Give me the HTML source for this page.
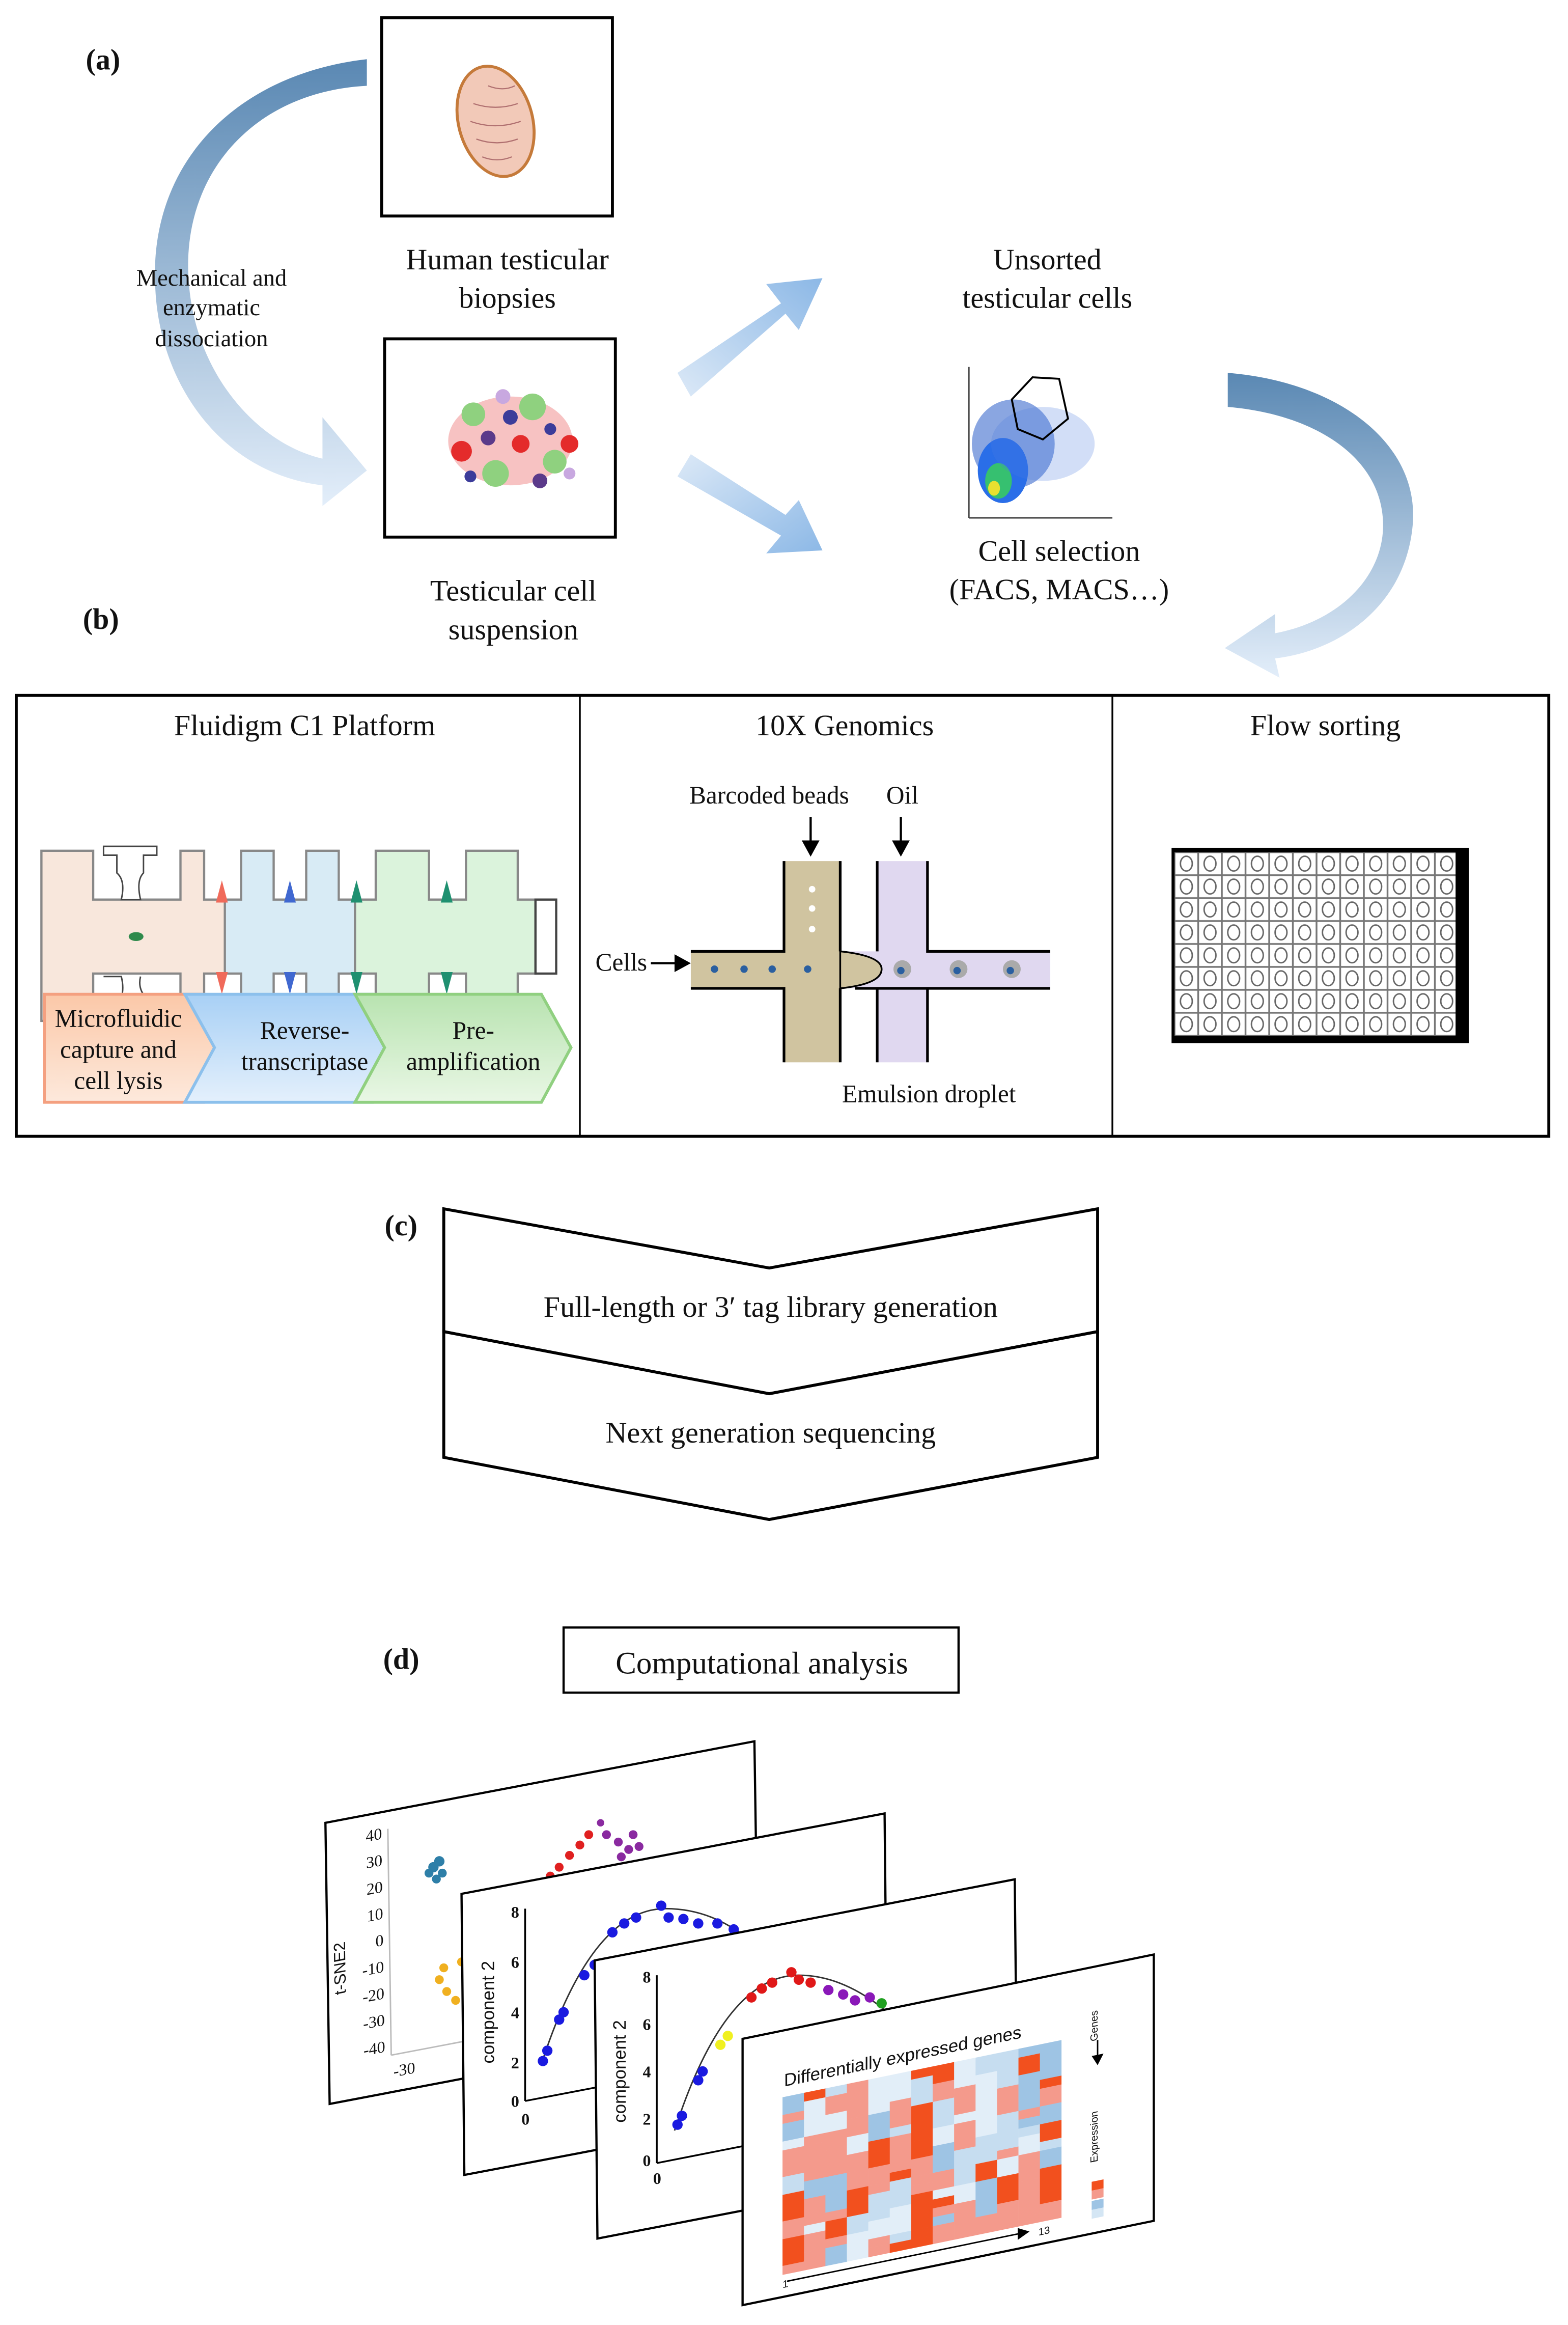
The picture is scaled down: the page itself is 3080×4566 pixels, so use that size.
<!DOCTYPE html>
<html><head><meta charset="utf-8"><style>
html,body{margin:0;padding:0;background:#fff}
svg{display:block}
text{font-family:"Liberation Serif",serif;fill:#111}
.s{font-family:"Liberation Sans",sans-serif}
</style></head><body>
<svg width="3080" height="4566" viewBox="0 0 1060 1571.4" xmlns="http://www.w3.org/2000/svg">
<defs>
<linearGradient id="ga" x1="0" y1="0" x2="0" y2="1"><stop offset="0" stop-color="#5a88b3"/><stop offset="1" stop-color="#e3eefa"/></linearGradient>
<linearGradient id="gb" x1="0" y1="1" x2="1" y2="0"><stop offset="0" stop-color="#dce9f7"/><stop offset="1" stop-color="#8cb8e6"/></linearGradient>
<linearGradient id="gc" x1="0" y1="0" x2="1" y2="1"><stop offset="0" stop-color="#dce9f7"/><stop offset="1" stop-color="#8cb8e6"/></linearGradient>
<linearGradient id="gd" x1="0" y1="0" x2="0" y2="1"><stop offset="0" stop-color="#5a88b3"/><stop offset="1" stop-color="#e3eefa"/></linearGradient>
<linearGradient id="pe" x1="0" y1="0" x2="0" y2="1"><stop offset="0" stop-color="#fbc8a8"/><stop offset="1" stop-color="#fde9dc"/></linearGradient>
<linearGradient id="bl" x1="0" y1="0" x2="0" y2="1"><stop offset="0" stop-color="#a8d0f5"/><stop offset="1" stop-color="#e4f0fc"/></linearGradient>
<linearGradient id="gr" x1="0" y1="0" x2="0" y2="1"><stop offset="0" stop-color="#b8e3b0"/><stop offset="1" stop-color="#e9f7e5"/></linearGradient>
<pattern id="well" x="794" y="576" width="16" height="15.5" patternUnits="userSpaceOnUse">
<rect width="16" height="15.5" fill="#fff" stroke="#777" stroke-width="1.2"/>
<ellipse cx="8" cy="7.7" rx="4" ry="5" fill="none" stroke="#666" stroke-width="1"/>
</pattern>
</defs>

<text x="58" y="47" font-size="20" font-weight="bold">(a)</text>
<rect x="258" y="12" width="156" height="134" fill="#fff" stroke="#000" stroke-width="2"/>
<ellipse cx="335" cy="82" rx="25" ry="38" transform="rotate(-15 335 82)" fill="#f2c9b8" stroke="#c57a3a" stroke-width="2"/>
<g stroke="#b07070" stroke-width="0.8" fill="none">
<path d="M320 70 q15 5 30 0 M318 82 q17 6 34 0 M322 94 q14 5 28 0 M326 106 q10 4 20 0 M330 58 q10 4 18 0"/>
</g>
<text x="343" y="182" font-size="20" text-anchor="middle">Human testicular</text>
<text x="343" y="208" font-size="20" text-anchor="middle">biopsies</text>
<rect x="260" y="229" width="156" height="134" fill="#fff" stroke="#000" stroke-width="2"/>
<g>
<ellipse cx="345" cy="298" rx="42" ry="30" fill="#f4a8a8" opacity="0.7"/>
<circle cx="320" cy="280" r="8" fill="#8fd17f"/><circle cx="360" cy="275" r="9" fill="#8fd17f"/>
<circle cx="375" cy="312" r="8" fill="#8fd17f"/><circle cx="335" cy="320" r="9" fill="#8fd17f"/>
<circle cx="312" cy="305" r="7" fill="#e42b2b"/><circle cx="352" cy="300" r="6" fill="#e42b2b"/>
<circle cx="385" cy="300" r="6" fill="#e42b2b"/><circle cx="330" cy="296" r="5" fill="#5b3a8a"/>
<circle cx="345" cy="282" r="5" fill="#3c3c9a"/><circle cx="365" cy="325" r="5" fill="#5b3a8a"/>
<circle cx="318" cy="322" r="4" fill="#3c3c9a"/><circle cx="372" cy="290" r="4" fill="#3c3c9a"/>
<circle cx="340" cy="268" r="5" fill="#c8a8e0"/><circle cx="385" cy="320" r="4" fill="#c8a8e0"/>
</g>
<text x="347" y="406" font-size="20" text-anchor="middle">Testicular cell</text>
<text x="347" y="432" font-size="20" text-anchor="middle">suspension</text>
<path d="M248 58 C170 62 120 120 128 195 C134 255 175 300 218 310 L218 282 L248 318 L218 342 L218 328 C150 320 108 260 105 195 C100 110 160 50 248 40 Z" fill="url(#ga)"/>
<text x="143" y="193" font-size="16" text-anchor="middle">Mechanical and</text>
<text x="143" y="213" font-size="16" text-anchor="middle">enzymatic</text>
<text x="143" y="234" font-size="16" text-anchor="middle">dissociation</text>
<path d="M458 252 L528 205 L518 192 L556 188 L540 223 L531 212 L467 268 Z" fill="url(#gb)"/>
<path d="M458 322 L528 362 L518 374 L556 372 L540 338 L531 348 L467 307 Z" fill="url(#gc)"/>
<text x="708" y="182" font-size="20" text-anchor="middle">Unsorted</text>
<text x="708" y="208" font-size="20" text-anchor="middle">testicular cells</text>
<g>
<line x1="655" y1="248" x2="655" y2="350" stroke="#444" stroke-width="1"/>
<line x1="655" y1="350" x2="752" y2="350" stroke="#444" stroke-width="1"/>
<ellipse cx="685" cy="300" rx="28" ry="30" fill="#2a5cc8" opacity="0.55"/>
<ellipse cx="678" cy="318" rx="17" ry="22" fill="#2a6ee8"/>
<ellipse cx="675" cy="325" rx="9" ry="12" fill="#36c070"/>
<ellipse cx="672" cy="330" rx="4" ry="5" fill="#e8e030"/>
<ellipse cx="705" cy="300" rx="35" ry="25" fill="#4a7ae0" opacity="0.25"/>
<polygon points="684,270 698,255 716,256 722,283 705,297 688,290" fill="none" stroke="#000" stroke-width="1.3"/>
</g>
<text x="716" y="379" font-size="20" text-anchor="middle">Cell selection</text>
<text x="716" y="405" font-size="20" text-anchor="middle">(FACS, MACS…)</text>
<path d="M830 252 C905 258 960 300 955 355 C950 410 905 440 862 445 L865 458 L828 438 L862 415 L862 428 C905 420 935 390 935 355 C935 310 890 280 830 275 Z" fill="url(#gd)"/>

<text x="56" y="425" font-size="20" font-weight="bold">(b)</text>
<rect x="11" y="470" width="1036" height="298" fill="#fff" stroke="#000" stroke-width="2"/>
<line x1="392" y1="470" x2="392" y2="768" stroke="#000" stroke-width="1.2"/>
<line x1="752" y1="470" x2="752" y2="768" stroke="#000" stroke-width="1.2"/>
<text x="206" y="497" font-size="20" text-anchor="middle">Fluidigm C1 Platform</text>
<text x="571" y="497" font-size="20" text-anchor="middle">10X Genomics</text>
<text x="896" y="497" font-size="20" text-anchor="middle">Flow sorting</text>
<g stroke="#888" stroke-width="1.5">
<path d="M28 575 H63 V608 H122 V575 H138 V608 H152 V658 H138 V690 H122 V658 H63 V690 H28 Z" fill="#f8e7dc"/>
<path d="M152 608 H163 V575 H185 V608 H207 V575 H229 V608 H240 V658 H229 V690 H207 V658 H185 V690 H163 V658 H152 Z" fill="#d8ebf5"/>
<path d="M240 608 H254 V575 H290 V608 H315 V575 H350 V608 H362 V658 H350 V690 H315 V658 H290 V690 H254 V658 H240 Z" fill="#dbf3dc"/>
<rect x="362" y="608" width="14" height="50" fill="#fff" stroke="#444"/>
</g>
<path d="M70 572 H106 V578 H97 V590 Q92 595 95 608 H82 Q85 595 79 590 V578 H70 Z" fill="#fff" stroke="#444" stroke-width="1"/>
<path d="M70 660 H82 Q85 672 79 680 V692 H106 V680 Q92 672 95 660" fill="#fff" stroke="#444" stroke-width="1"/>
<ellipse cx="92" cy="633" rx="5" ry="3" fill="#2f8a4c"/>
<g>
<path d="M150 595 L146 610 H154 Z" fill="#f06a5a"/><path d="M150 672 L146 657 H154 Z" fill="#f06a5a"/>
<path d="M196 595 L192 610 H200 Z" fill="#4068d0"/><path d="M196 672 L192 657 H200 Z" fill="#4068d0"/>
<path d="M241 595 L237 610 H245 Z" fill="#1f9070"/><path d="M241 672 L237 657 H245 Z" fill="#1f9070"/>
<path d="M302 595 L298 610 H306 Z" fill="#1f9070"/><path d="M302 672 L298 657 H306 Z" fill="#1f9070"/>
</g>
<polygon points="30,672 138,672 158,708 138,745 30,745" fill="url(#pe)" stroke="#f4a080" stroke-width="2"/>
<polygon points="125,672 252,672 272,708 252,745 125,745 145,708" fill="url(#bl)" stroke="#8cc0ec" stroke-width="2"/>
<polygon points="240,672 366,672 386,708 366,745 240,745 260,708" fill="url(#gr)" stroke="#90d080" stroke-width="2"/>
<text x="80" y="694" font-size="17" text-anchor="middle">Microfluidic</text>
<text x="80" y="715" font-size="17" text-anchor="middle">capture and</text>
<text x="80" y="736" font-size="17" text-anchor="middle">cell  lysis</text>
<text x="206" y="702" font-size="17" text-anchor="middle">Reverse-</text>
<text x="206" y="723" font-size="17" text-anchor="middle">transcriptase</text>
<text x="320" y="702" font-size="17" text-anchor="middle">Pre-</text>
<text x="320" y="723" font-size="17" text-anchor="middle">amplification</text>
<text x="520" y="543" font-size="17" text-anchor="middle">Barcoded beads</text>
<text x="610" y="543" font-size="17" text-anchor="middle">Oil</text>
<g stroke="#000" stroke-width="1.5"><line x1="548" y1="552" x2="548" y2="572"/><line x1="609" y1="552" x2="609" y2="572"/><line x1="440" y1="651" x2="458" y2="651"/></g>
<polygon points="542,568 554,568 548,579" fill="#000"/><polygon points="603,568 615,568 609,579"/>
<polygon points="456,645 467,651 456,657"/>
<text x="420" y="656" font-size="17" text-anchor="middle">Cells</text>
<rect x="593" y="582" width="34" height="136" fill="#e0d8f0"/>
<rect x="568" y="643" width="142" height="25" fill="#e0d8f0"/>
<rect x="530" y="582" width="38" height="136" fill="#d0c4a0"/>
<rect x="467" y="643" width="101" height="25" fill="#d0c4a0"/>
<path d="M568 643 Q596 646 596 655 Q596 665 568 668 Z" fill="#d0c4a0" stroke="#000" stroke-width="1.2"/>
<g stroke="#000" stroke-width="1.8" fill="none">
<path d="M530 582 V643 H467 M467 668 H530 V718 M568 582 V643 M568 668 V718 M593 582 V643 M627 582 V643 H710 M593 668 V718 M627 668 V718 M578 668 H710"/>
</g>
<g fill="#fff"><circle cx="549" cy="601" r="2.2"/><circle cx="549" cy="614" r="2.2"/><circle cx="549" cy="628" r="2.2"/></g>
<g fill="#2a5fa0"><circle cx="483" cy="655" r="2.5"/><circle cx="503" cy="655" r="2.5"/><circle cx="522" cy="655" r="2.5"/><circle cx="546" cy="655" r="2.5"/></g>
<g><circle cx="610" cy="655" r="6" fill="#aaa"/><circle cx="648" cy="655" r="6" fill="#aaa"/><circle cx="684" cy="655" r="6" fill="#aaa"/>
<circle cx="609" cy="656" r="2.5" fill="#2a5fa0"/><circle cx="647" cy="656" r="2.5" fill="#2a5fa0"/><circle cx="683" cy="656" r="2.5" fill="#2a5fa0"/></g>
<text x="628" y="745" font-size="17" text-anchor="middle">Emulsion droplet</text>
<rect x="792" y="573" width="201" height="132" fill="#000"/>
<rect x="794" y="576" width="190" height="124" fill="url(#well)"/>

<text x="260" y="835" font-size="20" font-weight="bold">(c)</text>
<path d="M300 817 L520 857 L742 817 L742 900 L520 942 L300 900 Z" fill="#fff" stroke="#000" stroke-width="2"/>
<path d="M300 900 L520 942 L742 900 L742 985 L520 1027 L300 985 Z" fill="#fff" stroke="#000" stroke-width="2"/>
<text x="521" y="890" font-size="20" text-anchor="middle">Full-length or 3′ tag library generation</text>
<text x="521" y="975" font-size="20" text-anchor="middle">Next generation sequencing</text>

<text x="259" y="1128" font-size="20" font-weight="bold">(d)</text>
<rect x="381" y="1100" width="267" height="44" fill="#fff" stroke="#000" stroke-width="1.5"/>
<text x="515" y="1131" font-size="21" text-anchor="middle">Computational analysis</text>

<g transform="translate(220 1232) matrix(1 -0.19 0.015 1 0 0)">
<rect x="0" y="0" width="290" height="190" fill="#fff" stroke="#000" stroke-width="1.5"/>
<line x1="42" y1="12" x2="42" y2="165" stroke="#bbb"/><line x1="42" y1="165" x2="120" y2="165" stroke="#bbb"/>
<g class="s" font-size="11" text-anchor="end">
<text x="38" y="18" fill="#777">40</text><text x="38" y="36" fill="#777">30</text><text x="38" y="54" fill="#777">20</text><text x="38" y="72" fill="#777">10</text><text x="38" y="90" fill="#777">0</text><text x="38" y="108" fill="#777">-10</text><text x="38" y="126" fill="#777">-20</text><text x="38" y="144" fill="#777">-30</text><text x="38" y="162" fill="#777">-40</text><text x="58" y="180" fill="#777">-30</text>
</g>
<text class="s" x="12" y="100" font-size="11" fill="#777" transform="rotate(-90 12 100)" text-anchor="middle">t-SNE2</text>
</g>
<g fill="#2e7fa8"><circle cx="293" cy="1262" r="3.5"/><circle cx="297" cy="1258" r="3.5"/><circle cx="290" cy="1266" r="3"/><circle cx="299" cy="1266" r="3"/><circle cx="295" cy="1270" r="3"/></g>
<g fill="#f0b020"><circle cx="300" cy="1330" r="3"/><circle cx="297" cy="1338" r="3"/><circle cx="302" cy="1346" r="3"/><circle cx="308" cy="1352" r="3"/><circle cx="312" cy="1326" r="3"/></g>
<g fill="#e02020"><circle cx="372" cy="1268" r="3"/><circle cx="378" cy="1262" r="3"/><circle cx="385" cy="1254" r="3"/><circle cx="392" cy="1247" r="3"/><circle cx="398" cy="1240" r="3"/></g>
<g fill="#8a2aa0"><circle cx="410" cy="1240" r="3"/><circle cx="418" cy="1245" r="3"/><circle cx="425" cy="1250" r="3"/><circle cx="432" cy="1248" r="3"/><circle cx="420" cy="1255" r="3"/><circle cx="428" cy="1240" r="3"/><circle cx="406" cy="1232" r="2.5"/></g>
<g transform="translate(312 1280) matrix(1 -0.19 0.01 1 0 0)">
<rect x="0" y="0" width="286" height="190" fill="#fff" stroke="#000" stroke-width="1.5"/>
</g>
<path d="M355 1420 V1290 M355 1420 L470 1398" stroke="#000" stroke-width="1.2" fill="none"/>
<g class="s" font-size="11" font-weight="bold" text-anchor="end"><text x="351" y="1296">8</text><text x="351" y="1330">6</text><text x="351" y="1364">4</text><text x="351" y="1398">2</text><text x="351" y="1424">0</text><text x="358" y="1436">0</text></g>
<text class="s" x="334" y="1360" font-size="12" transform="rotate(-90 334 1360)" text-anchor="middle">component 2</text>
<path d="M366 1395 Q400 1290 450 1290 Q480 1290 505 1310" stroke="#333" fill="none"/>
<g fill="#1a1ae0"><circle cx="367" cy="1393" r="3.5"/><circle cx="370" cy="1386" r="3.5"/><circle cx="378" cy="1365" r="3.5"/><circle cx="381" cy="1360" r="3.5"/><circle cx="395" cy="1335" r="3.5"/><circle cx="402" cy="1328" r="3.5"/><circle cx="414" cy="1306" r="3.5"/><circle cx="422" cy="1300" r="3.5"/><circle cx="430" cy="1296" r="3.5"/><circle cx="447" cy="1288" r="3.5"/><circle cx="452" cy="1296" r="3.5"/><circle cx="462" cy="1297" r="3.5"/><circle cx="472" cy="1300" r="3.5"/><circle cx="485" cy="1300" r="3.5"/><circle cx="496" cy="1304" r="3.5"/></g>
<g transform="translate(402 1325) matrix(1 -0.193 0.01 1 0 0)">
<rect x="0" y="0" width="284" height="188" fill="#fff" stroke="#000" stroke-width="1.5"/>
</g>
<path d="M444 1462 V1335 M444 1462 L520 1447" stroke="#000" stroke-width="1.2" fill="none"/>
<g class="s" font-size="11" font-weight="bold" text-anchor="end"><text x="440" y="1340">8</text><text x="440" y="1372">6</text><text x="440" y="1404">4</text><text x="440" y="1436">2</text><text x="440" y="1464">0</text><text x="447" y="1476">0</text></g>
<text class="s" x="423" y="1400" font-size="12" transform="rotate(-90 423 1400)" text-anchor="middle">component 2</text>
<path d="M456 1440 Q490 1335 540 1335 Q570 1335 600 1360" stroke="#333" fill="none"/>
<g fill="#1a1ae0"><circle cx="458" cy="1436" r="3.5"/><circle cx="461" cy="1430" r="3.5"/><circle cx="472" cy="1406" r="3.5"/><circle cx="475" cy="1400" r="3.5"/></g>
<g fill="#f0f020"><circle cx="487" cy="1382" r="3.5"/><circle cx="492" cy="1376" r="3.5"/></g>
<g fill="#e01818"><circle cx="508" cy="1350" r="3.5"/><circle cx="515" cy="1344" r="3.5"/><circle cx="522" cy="1340" r="3.5"/><circle cx="535" cy="1333" r="3.5"/><circle cx="540" cy="1338" r="3.5"/><circle cx="548" cy="1340" r="3.5"/></g>
<g fill="#8a18b8"><circle cx="560" cy="1345" r="3.5"/><circle cx="570" cy="1348" r="3.5"/><circle cx="578" cy="1352" r="3.5"/><circle cx="588" cy="1350" r="3.5"/></g>
<circle cx="596" cy="1354" r="3.5" fill="#20a020"/>
<g transform="translate(502 1378) matrix(1 -0.205 0 1 0 0)">
<rect x="0" y="0" width="278" height="180" fill="#fff" stroke="#000" stroke-width="1.5"/>
<text class="s" x="28" y="38" font-size="12">Differentially expressed genes</text>
<g id="hm"></g>
<line x1="30" y1="170" x2="186" y2="170" stroke="#000"/>
<polygon points="186,166 194,170 186,174" fill="#000"/>
<text class="s" x="27" y="174" font-size="7">1</text><text class="s" x="200" y="174" font-size="7">13</text>
<text class="s" x="240" y="40" font-size="7" transform="rotate(-90 240 40)" text-anchor="middle">Genes</text>
<polygon points="236,60 244,60 240,67"/><line x1="240" y1="50" x2="240" y2="62" stroke="#000"/>
<text class="s" x="240" y="115" font-size="7" transform="rotate(-90 240 115)" text-anchor="middle">Expression</text>
<rect x="236" y="145" width="8" height="6" fill="#f2501e"/><rect x="236" y="151" width="8" height="6" fill="#f49a8c"/>
<rect x="236" y="158" width="8" height="6" fill="#9ec4e4"/><rect x="236" y="164" width="8" height="6" fill="#d4e6f4"/>
</g>
</svg>
<script>
var g=document.getElementById('hm'),cols=['#f2501e','#f49a8c','#f49a8c','#9ec4e4','#c6ddf0','#e2eef8'],s=7;
function r(){s=(s*9301+49297)%233280;return s/233280;}
var h='';for(var c=0;c<13;c++){var k=0;while(k<20){var n=1+Math.floor(r()*4);if(k+n>20)n=20-k;var col=cols[Math.floor(r()*6)];h+='<rect x="'+(27+c*14.5)+'" y="'+(45+k*6)+'" width="14.6" height="'+(n*6+0.1)+'" fill="'+col+'"/>';k+=n;}}
g.innerHTML=h;
</script>
</body></html>
